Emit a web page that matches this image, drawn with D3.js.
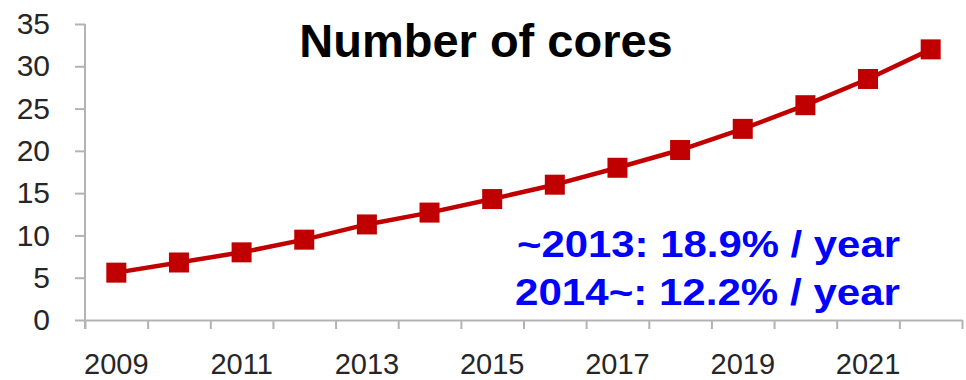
<!DOCTYPE html>
<html>
<head>
<meta charset="utf-8">
<script src="https://cdn.jsdelivr.net/npm/d3@7"></script>
<style>
  html, body { margin: 0; padding: 0; background: #fff; }
  svg { display: block; }
  text { font-family: "Liberation Sans", Arial, sans-serif; }
</style>
</head>
<body>
<svg id="chart" width="966" height="380"></svg>
<script>
// Projected core count per year
const years = [2009, 2010, 2011, 2012, 2013, 2014, 2015, 2016, 2017, 2018, 2019, 2020, 2021, 2022];
const cores = [5.6, 6.8, 8.0, 9.5, 11.3, 12.7, 14.3, 16.0, 18.0, 20.1, 22.6, 25.4, 28.5, 32.0];
const yTicks = [0, 5, 10, 15, 20, 25, 30, 35];
const xLabelYears = [2009, 2011, 2013, 2015, 2017, 2019, 2021];
const titleText = "Number of cores";
const notes = ["~2013: 18.9% / year", "2014~: 12.2% / year"];

const svg = d3.select("#chart");
const plotLeft = 85, plotRight = 962, plotTop = 24, plotBottom = 320;

const x = d3.scaleBand().domain(years).range([plotLeft, plotRight]).padding(0);
const xEdge = d3.scaleLinear().domain([0, years.length]).range([plotLeft, plotRight]);
const y = d3.scaleLinear().domain([0, 35]).range([plotBottom, plotTop]);

const axisColor = "#b3b3b3";
const labelColor = "#262626";

// Y axis
const yAxis = svg.append("g")
  .attr("transform", `translate(${plotLeft},0)`)
  .call(d3.axisLeft(y).tickValues(yTicks).tickSize(10).tickPadding(25).tickSizeOuter(0));
yAxis.select(".domain").attr("stroke", axisColor).attr("stroke-width", 2)
  .attr("d", `M0,${plotTop}V${plotBottom + 9}`);
yAxis.selectAll(".tick line").attr("stroke", axisColor).attr("stroke-width", 2);
yAxis.selectAll(".tick text").attr("fill", labelColor).style("font-size", "30px");

// X axis: tick marks on category boundaries
const xTickAxis = svg.append("g")
  .attr("transform", `translate(0,${plotBottom})`)
  .call(d3.axisBottom(xEdge).tickValues(d3.range(0, years.length + 1)).tickSize(9).tickFormat("").tickSizeOuter(0));
xTickAxis.select(".domain").attr("stroke", axisColor).attr("stroke-width", 2);
xTickAxis.selectAll(".tick line").attr("stroke", axisColor).attr("stroke-width", 2);

// X axis labels at category centres
const xLabelAxis = svg.append("g")
  .attr("transform", `translate(0,${plotBottom})`)
  .call(d3.axisBottom(x).tickValues(xLabelYears).tickSize(0).tickPadding(33));
xLabelAxis.select(".domain").remove();
xLabelAxis.selectAll(".tick text").attr("fill", labelColor).style("font-size", "29px");

// Title
svg.append("text")
  .attr("x", 486).attr("y", 57)
  .attr("text-anchor", "middle")
  .style("font-size", "47px").style("font-weight", "bold")
  .attr("fill", "#000")
  .text(titleText);

// Series line and markers
const cx = d => x(d) + x.bandwidth() / 2;
const line = d3.line().x((d, i) => cx(years[i])).y(d => y(d));
svg.append("path")
  .datum(cores)
  .attr("fill", "none")
  .attr("stroke", "#c00000")
  .attr("stroke-width", 4.5)
  .attr("stroke-linejoin", "round")
  .attr("d", line);

const size = 20;
svg.selectAll("rect.marker")
  .data(cores)
  .join("rect")
  .attr("class", "marker")
  .attr("x", (d, i) => cx(years[i]) - size / 2)
  .attr("y", d => y(d) - size / 2)
  .attr("width", size).attr("height", size)
  .attr("fill", "#c00000");

// Growth-rate notes
svg.selectAll("text.note")
  .data(notes)
  .join("text")
  .attr("class", "note")
  .attr("x", (d, i) => i === 0 ? 517 : 515)
  .attr("y", (d, i) => 257 + i * 48)
  .attr("textLength", (d, i) => i === 0 ? 383 : 385)
  .attr("lengthAdjust", "spacingAndGlyphs")
  .style("font-size", "36px").style("font-weight", "bold")
  .attr("fill", "#0000ff")
  .text(d => d);
</script>
</body>
</html>
